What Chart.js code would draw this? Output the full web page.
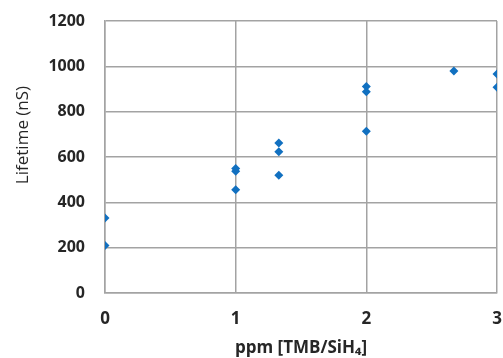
<!DOCTYPE html>
<html>
<head>
<meta charset="utf-8">
<script src="https://cdn.jsdelivr.net/npm/chart.js@4/dist/chart.umd.min.js"></script>
<style>
  html, body { margin: 0; padding: 0; background: #fff; }
  #wrap { width: 503px; height: 358px; }
</style>
</head>
<body>
<div id="wrap"><canvas id="chart" width="503" height="358"></canvas></div>
<script>
// ppm [TMB/SiH4] vs lifetime (nS)
const ppmValues = [0, 0, 1, 1, 1, 1.33, 1.33, 1.33, 2, 2, 2, 2.67, 3, 3];
const lifetimeValues = [331, 210, 549, 537, 456, 662, 623, 520, 911, 888, 714, 979, 966, 908];
const xTicks = [0, 1, 2, 3];
const yTicks = [0, 200, 400, 600, 800, 1000, 1200];
const yTitle = 'Lifetime (nS)';

const points = ppmValues.map((x, i) => ({ x: x, y: lifetimeValues[i] }));

const gridColor = '#a3a3a3';
const textColor = '#262626';

// y title sits a bit above the middle of the plot in the original
const yTitlePlugin = {
    id: 'yTitle',
    afterDraw(chart) {
        const ctx = chart.ctx;
        ctx.save();
        ctx.translate(23, 135);
        ctx.rotate(-Math.PI / 2);
        ctx.font = '17px "Open Sans"';
        ctx.fillStyle = textColor;
        ctx.textAlign = 'center';
        ctx.textBaseline = 'middle';
        ctx.fillText(yTitle, 0, 0);
        ctx.restore();
    }
};

new Chart(document.getElementById('chart'), {
    type: 'scatter',
    data: {
        datasets: [{
            data: points,
            pointStyle: 'rectRot',
            pointRadius: 4.5,
            backgroundColor: '#1170c0',
            borderColor: '#1170c0',
            borderWidth: 0
        }]
    },
    options: {
        responsive: false,
        animation: false,
        layout: { padding: { left: 0, right: 6, top: 21, bottom: 0 } },
        plugins: {
            legend: { display: false },
            tooltip: { enabled: false }
        },
        scales: {
            x: {
                type: 'linear',
                min: xTicks[0],
                max: xTicks[xTicks.length - 1],
                afterBuildTicks: (scale) => { scale.ticks = xTicks.map(v => ({ value: v })); },
                afterFit: (scale) => {
                    scale.height = 65;
                    scale.paddingLeft = 0;
                    scale.paddingRight = 0;
                },
                grid: { color: gridColor, lineWidth: 1.5, drawTicks: false },
                border: { color: gridColor, width: 1.5 },
                ticks: {
                    color: textColor,
                    padding: 16,
                    callback: (v) => String(v),
                    font: { family: 'Open Sans', size: 17, weight: 'bold' }
                },
                title: {
                    display: true,
                    text: 'ppm [TMB/SiH₄]',
                    color: textColor,
                    padding: { top: 3, bottom: 0 },
                    font: { family: 'Open Sans', size: 17, weight: 'bold' }
                }
            },
            y: {
                min: yTicks[0],
                max: yTicks[yTicks.length - 1],
                afterBuildTicks: (scale) => { scale.ticks = yTicks.map(v => ({ value: v })); },
                afterFit: (scale) => {
                    scale.width = 105;
                    scale.paddingTop = 0;
                    scale.paddingBottom = 0;
                },
                grid: { color: gridColor, lineWidth: 1.5, drawTicks: false },
                border: { color: gridColor, width: 1.5 },
                ticks: {
                    color: textColor,
                    padding: 20,
                    callback: (v) => String(v),
                    font: { family: 'Open Sans', size: 16, weight: 'bold' }
                }
            }
        }
    },
    plugins: [yTitlePlugin]
});
</script>
</body>
</html>
